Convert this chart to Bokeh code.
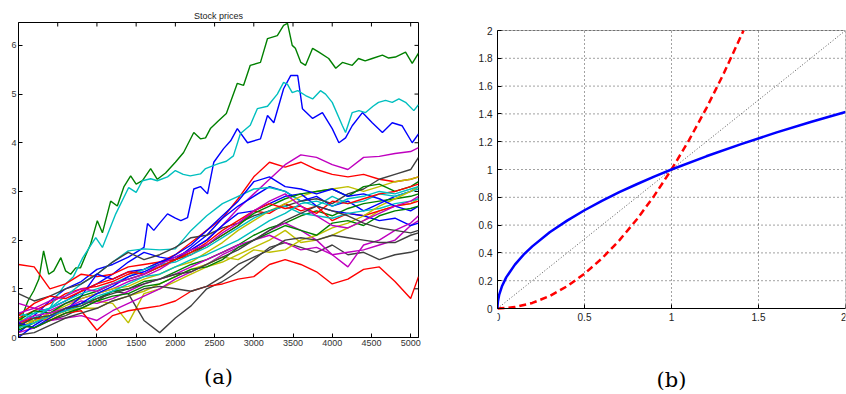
import math
from bokeh.plotting import figure
from bokeh.layouts import row
from bokeh.models import FixedTicker, Range1d, PrintfTickFormatter, BoxAnnotation, LinearAxis
from bokeh.embed import file_html
from bokeh.resources import INLINE

# ---------------- Panel (a): stock prices ----------------
T = [0, 200, 400, 600, 800, 1000, 1200, 1400, 1600, 1800, 2000, 2200, 2400, 2600,
     2800, 3000, 3200, 3400, 3600, 3800, 4000, 4200, 4400, 4600, 4800, 5000, 5100]

G1_t = [0, 60, 120, 195, 260, 320, 385, 450, 540, 600, 665, 730, 790, 860, 920, 1005, 1070, 1175, 1260, 1345,
        1430, 1500, 1580, 1685, 1770, 1875, 2000, 2105, 2235, 2320, 2385, 2450, 2550, 2650, 2790, 2870, 2955, 3085, 3175, 3300,
        3380, 3430, 3490, 3530, 3600, 3660, 3750, 3830, 3955, 4045, 4130, 4255, 4335, 4420, 4510, 4640, 4720, 4805, 4935, 5020, 5100]
G1_v = [0.15, 0.5, 0.75, 0.96, 1.2, 1.78, 1.3, 1.37, 1.64, 1.37, 1.3, 1.43, 1.43, 1.7, 1.92, 2.4, 2.15, 2.8, 2.7, 3.1,
        3.32, 3.15, 3.22, 3.47, 3.25, 3.38, 3.6, 3.8, 4.21, 4.08, 4.1, 4.3, 4.45, 4.6, 5.22, 5.18, 5.59, 5.65, 6.14, 6.2,
        6.41, 6.45, 6.0, 5.94, 5.65, 5.59, 5.94, 5.86, 5.73, 5.53, 5.65, 5.59, 5.73, 5.68, 5.73, 5.8, 5.74, 5.76, 5.86, 5.63, 5.84]

C1_t = [0, 200, 400, 475, 600, 700, 820, 985, 1070, 1240, 1405, 1500, 1580, 1685, 1770, 1900, 2000, 2100, 2190, 2320,
        2385, 2550, 2650, 2740, 2830, 2955, 3045, 3175, 3300, 3380, 3430, 3490, 3560, 3660, 3750, 3850, 3915, 4000, 4130, 4170,
        4255, 4340, 4425, 4520, 4590, 4680, 4765, 4850, 4935, 5040, 5100]
C1_v = [0.45, 0.5, 0.6, 0.82, 1.1, 1.25, 1.64, 2.05, 1.85, 2.54, 3.08, 2.98, 3.22, 3.26, 3.22, 3.3, 3.43, 3.35, 3.32, 3.36,
        3.47, 3.57, 3.62, 3.73, 4.19, 4.36, 4.7, 4.75, 5.0, 5.24, 5.2, 5.03, 5.07, 4.97, 4.9, 5.07, 5.0, 4.83, 4.35, 4.21,
        4.62, 4.66, 4.62, 4.75, 4.83, 4.87, 4.83, 4.9, 4.83, 4.66, 4.78]

B1_t = [0, 200, 400, 600, 800, 1000, 1200, 1400, 1500, 1600, 1645, 1725, 1800, 1900, 2000, 2070, 2155, 2235, 2320, 2410,
        2490, 2615, 2705, 2790, 2920, 3085, 3175, 3255, 3380, 3470, 3560, 3620, 3750, 3875, 4000, 4085, 4170, 4255, 4385, 4510,
        4640, 4765, 4890, 5020, 5100]
B1_v = [0.2, 0.45, 0.75, 1.0, 1.15, 1.4, 1.5, 1.65, 1.75, 1.85, 2.34, 2.2, 2.35, 2.54, 2.45, 2.4, 2.46, 3.05, 3.1, 2.95,
        3.6, 3.88, 4.04, 4.29, 4.0, 4.08, 4.56, 4.41, 5.11, 5.38, 5.38, 4.7, 4.5, 4.62, 4.29, 4.0, 4.1, 4.35, 4.62, 4.41,
        4.21, 4.41, 4.35, 4.0, 4.18]

B2 = [0.1, 0.35, 0.6, 0.75, 0.95, 1.1, 1.3, 1.55, 1.75, 1.65, 1.6, 1.85, 2.1, 2.45, 2.7, 2.9, 3.1, 3.0, 2.8, 2.9, 2.7, 2.8, 2.6, 2.75, 2.9, 3.0, 3.1]
B3 = [0.0, 0.25, 0.45, 0.55, 0.85, 1.3, 1.2, 1.35, 1.4, 1.55, 1.65, 1.8, 2.0, 2.3, 2.55, 2.6, 2.75, 2.9, 2.95, 2.7, 2.6, 2.55, 2.5, 2.4, 2.45, 2.3, 2.35]
B4 = [0.3, 0.2, 0.4, 0.6, 0.7, 0.9, 1.05, 1.25, 1.35, 1.5, 1.7, 1.9, 2.2, 2.5, 2.8, 3.2, 3.3, 3.1, 3.05, 2.95, 3.05, 2.9, 2.95, 2.85, 2.7, 2.6, 2.7]
G2 = [0.15, 0.3, 0.45, 0.55, 0.7, 0.8, 0.95, 1.0, 1.15, 1.2, 1.35, 1.5, 1.6, 1.75, 1.9, 2.1, 2.25, 2.35, 2.5, 2.6, 2.5, 2.65, 2.75, 2.8, 2.85, 2.9, 2.95]
G3 = [0.35, 0.55, 0.5, 0.7, 0.85, 0.95, 1.1, 1.2, 1.3, 1.45, 1.6, 1.75, 1.9, 2.1, 2.3, 2.55, 2.7, 2.85, 2.95, 3.0, 3.05, 2.9, 3.1, 3.15, 3.0, 3.1, 3.2]
G4 = [0.25, 0.2, 0.35, 0.5, 0.6, 0.75, 0.85, 0.9, 1.05, 1.1, 1.25, 1.4, 1.45, 1.6, 1.85, 2.0, 2.15, 2.3, 2.2, 2.1, 2.35, 2.4, 2.3, 2.5, 2.6, 2.65, 2.7]
R1 = [0.4, 0.55, 0.7, 0.9, 1.0, 1.05, 1.15, 1.3, 1.4, 1.55, 1.7, 1.95, 2.2, 2.45, 2.85, 3.3, 3.6, 3.5, 3.6, 3.45, 3.35, 3.3, 3.35, 3.25, 3.2, 3.25, 3.3]
R2 = [1.5, 1.45, 1.0, 1.1, 1.3, 1.25, 1.3, 1.45, 1.5, 1.55, 1.6, 1.7, 1.9, 2.1, 2.3, 2.6, 2.55, 2.75, 2.6, 2.7, 2.4, 2.55, 2.5, 2.6, 2.7, 2.75, 2.8]
R3 = [0.3, 0.4, 0.35, 0.5, 0.55, 0.15, 0.45, 0.55, 0.6, 0.65, 0.75, 0.95, 1.05, 1.1, 1.2, 1.25, 1.5, 1.6, 1.5, 1.35, 1.1, 1.2, 1.4, 1.45, 1.15, 0.8, 1.25]
R4 = [0.45, 0.7, 0.85, 0.8, 0.95, 1.1, 1.2, 1.35, 1.3, 1.45, 1.6, 1.75, 1.95, 2.2, 2.4, 2.6, 2.75, 2.65, 2.7, 2.55, 2.8, 2.75, 2.85, 2.95, 3.0, 3.1, 3.15]
C2 = [0.3, 0.5, 0.6, 0.85, 1.1, 1.3, 1.55, 1.78, 1.82, 1.8, 1.82, 2.2, 2.5, 2.75, 2.9, 3.05, 3.08, 3.0, 2.8, 2.7, 2.9, 2.75, 2.8, 2.95, 2.9, 3.0, 3.05]
C3 = [0.5, 0.4, 0.6, 0.75, 0.9, 1.0, 1.1, 1.25, 1.4, 1.5, 1.55, 1.7, 1.85, 2.05, 2.25, 2.45, 2.6, 2.7, 2.55, 2.5, 2.45, 2.55, 2.6, 2.65, 2.75, 2.8, 2.85]
C4 = [0.2, 0.3, 0.45, 0.55, 0.65, 0.85, 0.95, 1.1, 1.25, 1.3, 1.45, 1.6, 1.7, 1.85, 2.0, 2.2, 2.4, 2.55, 2.75, 2.8, 2.7, 2.85, 2.9, 3.0, 2.95, 3.05, 3.1]
M1 = [0.7, 0.6, 0.55, 0.7, 0.8, 0.9, 1.0, 1.15, 1.25, 1.4, 1.6, 1.8, 2.0, 2.3, 2.65, 2.95, 3.25, 3.55, 3.75, 3.7, 3.55, 3.45, 3.7, 3.72, 3.78, 3.82, 3.9]
M2 = [0.1, 0.2, 0.35, 0.4, 0.45, 0.35, 0.55, 0.7, 0.85, 1.0, 1.2, 1.35, 1.5, 1.7, 1.85, 2.0, 2.1, 1.95, 1.8, 1.85, 1.7, 1.75, 1.8, 1.9, 2.0, 2.3, 2.4]
M3 = [0.3, 0.45, 0.5, 0.6, 0.75, 0.7, 0.8, 0.95, 1.1, 1.2, 1.3, 1.45, 1.6, 1.75, 1.9, 2.0, 2.2, 2.35, 2.2, 2.0, 1.7, 1.45, 1.9, 2.0, 2.2, 2.35, 2.5]
M4 = [0.5, 0.6, 0.75, 0.85, 1.0, 0.95, 1.1, 1.2, 1.3, 1.5, 1.65, 1.8, 1.9, 2.15, 2.35, 2.6, 2.8, 2.95, 2.7, 2.5, 2.3, 2.25, 2.4, 2.55, 2.7, 2.8, 2.9]
Y1 = [0.3, 0.35, 0.5, 0.55, 0.7, 0.75, 0.7, 0.3, 0.9, 1.0, 1.15, 1.3, 1.45, 1.55, 1.7, 1.85, 2.0, 2.2, 1.95, 2.0, 2.1, 2.25, 2.4, 2.6, 2.7, 2.75, 2.85]
Y2 = [0.4, 0.3, 0.5, 0.65, 0.8, 0.9, 1.0, 1.05, 1.2, 1.3, 1.45, 1.55, 1.75, 1.95, 2.2, 2.4, 2.6, 2.75, 2.9, 3.0, 3.05, 3.1, 3.0, 3.1, 3.2, 3.25, 3.3]
Y3 = [0.2, 0.35, 0.4, 0.55, 0.6, 0.6, 0.75, 0.85, 0.95, 1.1, 1.25, 1.4, 1.5, 1.65, 1.6, 1.8, 1.75, 1.8, 2.0, 2.1, 2.25, 2.35, 2.5, 2.7, 2.85, 3.0, 3.1]
K1 = [0.3, 0.2, 0.35, 0.45, 0.6, 0.75, 0.95, 0.9, 0.35, 0.1, 0.4, 0.65, 1.0, 1.15, 1.35, 1.6, 1.85, 1.95, 1.85, 1.75, 1.9, 1.7, 1.75, 1.6, 1.7, 1.75, 1.8]
K2 = [0.9, 0.75, 0.85, 1.0, 1.1, 1.3, 1.55, 1.75, 1.6, 1.7, 1.85, 2.05, 2.1, 2.25, 2.35, 2.5, 2.6, 2.7, 2.8, 2.85, 2.75, 2.95, 3.05, 3.25, 3.35, 3.45, 3.7]
K3 = [0.05, 0.1, 0.25, 0.4, 0.5, 0.6, 0.75, 0.85, 1.0, 1.05, 1.0, 0.95, 1.05, 1.25, 1.5, 1.65, 1.8, 2.0, 2.05, 2.0, 2.1, 2.05, 2.0, 1.95, 1.95, 2.1, 2.15]
K4 = [0.25, 0.4, 0.45, 0.6, 0.65, 0.8, 0.9, 1.0, 1.1, 1.2, 1.3, 1.35, 1.5, 1.65, 1.8, 2.0, 2.2, 2.4, 2.55, 2.7, 2.6, 2.5, 2.35, 2.25, 2.2, 2.15, 2.2]

STOCK_X_MAX = 5100
STOCK_Y_MAX = 6.47
STOCK_X_TICKS = [500, 1000, 1500, 2000, 2500, 3000, 3500, 4000, 4500, 5000]
STOCK_Y_TICKS = [0, 1, 2, 3, 4, 5, 6]

COL = {"b": "#0000FF", "g": "#008000", "r": "#FF0000", "c": "#00BFBF",
       "m": "#BF00BF", "y": "#BFBF00", "k": "#404040"}

SERIES = [
    ("b", B1_t, B1_v), ("g", G1_t, G1_v), ("r", T, R1), ("c", C1_t, C1_v), ("m", T, M1), ("y", T, Y1), ("k", T, K1),
    ("b", T, B2), ("g", T, G2), ("r", T, R2), ("c", T, C2), ("m", T, M2), ("y", T, Y2), ("k", T, K2),
    ("b", T, B3), ("g", T, G3), ("r", T, R3), ("c", T, C3), ("m", T, M3), ("y", T, Y3), ("k", T, K3),
    ("b", T, B4), ("g", T, G4), ("r", T, R4), ("c", T, C4), ("m", T, M4), ("k", T, K4),
]

# ---------------- Panel (b): functions ----------------
SQRT_X = [0, 0.0004, 0.0025, 0.01, 0.025, 0.05, 0.1, 0.15, 0.2, 0.3, 0.4, 0.5, 0.6, 0.7, 0.8, 0.9, 1.0,
          1.2, 1.4, 1.6, 1.8, 2.0]
SQRT_Y = [0, 0.02, 0.05, 0.1, 0.158, 0.224, 0.316, 0.387, 0.447, 0.548, 0.632, 0.707, 0.775, 0.837, 0.894,
          0.949, 1.0, 1.095, 1.183, 1.265, 1.342, 1.414]
SQ_X = [0, 0.1, 0.2, 0.3, 0.4, 0.5, 0.6, 0.7, 0.8, 0.9, 1.0, 1.1, 1.2, 1.3, 1.414]
SQ_Y = [0, 0.01, 0.04, 0.09, 0.16, 0.25, 0.36, 0.49, 0.64, 0.81, 1.0, 1.21, 1.44, 1.69, 2.0]
DIAG_X = [0, 2]
DIAG_Y = [0, 2]
FN_X_TICKS = [0, 0.5, 1, 1.5, 2]
FN_Y_TICKS = [0, 0.2, 0.4, 0.6, 0.8, 1, 1.2, 1.4, 1.6, 1.8, 2]

SANS = "Liberation Sans"
SERIF = "DejaVu Serif"

# Both frames in a row share top/bottom edges; the (b) box is drawn inside a
# taller frame by widening its y range.
B_Y_RANGE = (-0.2086, 2.0576)
# the (b) caption is centred a little left of the middle of the visible box
B_CAPTION_SPAN = (0, 1.848)


def style_axis(ax, size, color):
    ax.major_tick_in = 4
    ax.major_tick_out = 0
    ax.minor_tick_in = 0
    ax.minor_tick_out = 0
    ax.axis_line_color = "black"
    ax.major_tick_line_color = "black"
    ax.major_label_text_font = SANS
    ax.major_label_text_font_size = size
    ax.major_label_text_color = color


# ---- figure (a)
p1 = figure(width=430, height=394, x_range=Range1d(0, STOCK_X_MAX), y_range=Range1d(0, STOCK_Y_MAX),
            output_backend="svg", toolbar_location=None,
            min_border_left=18, min_border_right=12, min_border_top=22, min_border_bottom=57)
p1.title.text = "Stock prices"
p1.title.align = "center"
p1.title.text_font = SANS
p1.title.text_font_size = "9px"
p1.title.text_font_style = "normal"
p1.title.text_color = "#222222"
p1.title.standoff = 4
p1.xgrid.visible = False
p1.ygrid.visible = False
p1.outline_line_color = "black"
p1.xaxis.ticker = FixedTicker(ticks=STOCK_X_TICKS)
p1.yaxis.ticker = FixedTicker(ticks=STOCK_Y_TICKS)
for ax in p1.xaxis + p1.yaxis:
    style_axis(ax, "9px", "#333333")
p1.xaxis.major_label_standoff = 2
p1.yaxis.major_label_standoff = 2
p1.xaxis.axis_label = "(a)"
p1.xaxis.axis_label_text_font = SERIF
p1.xaxis.axis_label_text_font_size = "21px"
p1.xaxis.axis_label_text_font_style = "normal"
p1.xaxis.axis_label_text_color = "black"
p1.xaxis.axis_label_standoff = 16

for c, xs, ys in SERIES:
    p1.line(xs, ys, line_color=COL[c], line_width=1.4)

# inward box ticks on top and right edges (half of each dash is clipped by the frame)
p1.scatter(STOCK_X_TICKS, [STOCK_Y_MAX] * len(STOCK_X_TICKS), marker="dash", size=8,
           angle=math.pi / 2, line_color="black", line_width=1)
p1.scatter([STOCK_X_MAX] * len(STOCK_Y_TICKS), STOCK_Y_TICKS, marker="dash", size=8,
           line_color="black", line_width=1)

# ---- figure (b)
p2 = figure(width=416, height=394, x_range=Range1d(0, 2), y_range=Range1d(*B_Y_RANGE),
            output_backend="svg", toolbar_location=None,
            min_border_left=67, min_border_right=1, min_border_top=22, min_border_bottom=57)
p2.outline_line_color = None
p2.xgrid.visible = False
p2.ygrid.visible = False
p2.xaxis.ticker = FixedTicker(ticks=FN_X_TICKS)
p2.yaxis.ticker = FixedTicker(ticks=FN_Y_TICKS)
for ax in p2.xaxis + p2.yaxis:
    style_axis(ax, "10px", "#222222")
    ax.formatter = PrintfTickFormatter(format="%g")
p2.xaxis.major_label_standoff = 4
p2.yaxis.major_label_standoff = 5
p2.xaxis.fixed_location = FN_Y_TICKS[0]
p2.xaxis.bounds = (FN_X_TICKS[0], FN_X_TICKS[-1])
p2.yaxis.bounds = (FN_Y_TICKS[0], FN_Y_TICKS[-1])

# dotted grid, limited to the box
n_x = len(FN_X_TICKS)
n_y = len(FN_Y_TICKS)
p2.segment(x0=FN_X_TICKS, y0=[FN_Y_TICKS[0]] * n_x, x1=FN_X_TICKS, y1=[FN_Y_TICKS[-1]] * n_x,
           line_color="#444444", line_dash="1 3", line_width=1)
p2.segment(x0=[FN_X_TICKS[0]] * n_y, y0=FN_Y_TICKS, x1=[FN_X_TICKS[-1]] * n_y, y1=FN_Y_TICKS,
           line_color="#444444", line_dash="1 3", line_width=1)

p2.add_layout(BoxAnnotation(left=FN_X_TICKS[0], right=FN_X_TICKS[-1], bottom=FN_Y_TICKS[0], top=FN_Y_TICKS[-1],
                            fill_alpha=0, line_color="black", line_width=1))

p2.line(DIAG_X, DIAG_Y, line_color="#555555", line_width=1, line_dash="1 2")
p2.line(SQ_X, SQ_Y, line_color="#FF0000", line_width=2.5, line_dash="7 4")
p2.line(SQRT_X, SQRT_Y, line_color="#0000FF", line_width=2.5)

# caption (b): an axis with no ticks, carrying only its label
cap = LinearAxis(ticker=FixedTicker(ticks=[]), bounds=B_CAPTION_SPAN,
                 axis_line_color=None, major_tick_line_color=None, minor_tick_line_color=None,
                 major_tick_in=0, major_tick_out=0, minor_tick_in=0, minor_tick_out=0,
                 major_label_standoff=0,
                 axis_label="(b)", axis_label_standoff=30,
                 axis_label_text_font=SERIF, axis_label_text_font_size="21px",
                 axis_label_text_font_style="normal", axis_label_text_color="black")
p2.add_layout(cap, "below")

layout = row(p1, p2)
open("out.html", "w").write(file_html(layout, INLINE))
